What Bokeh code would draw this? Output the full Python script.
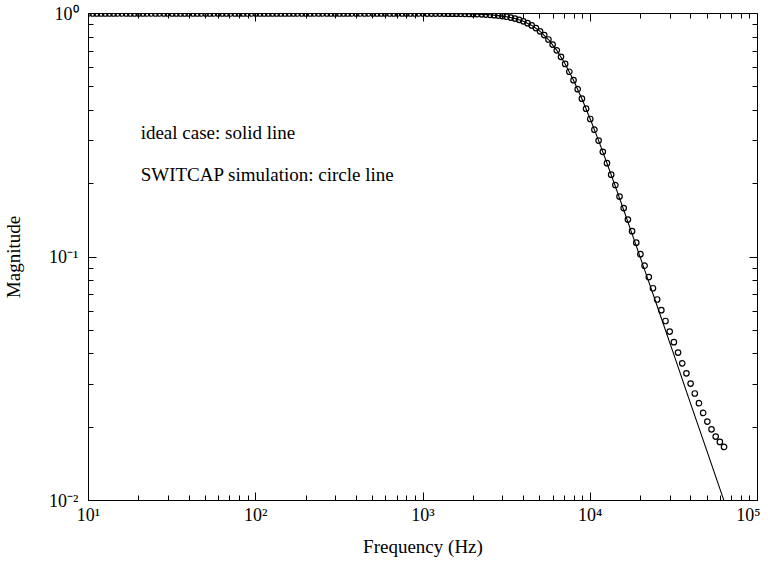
from bokeh.plotting import figure
from bokeh.models import Range1d, LogAxis, FixedTicker, CustomJSTickFormatter, Label, ColumnDataSource
from bokeh.embed import file_html
from bokeh.resources import INLINE

# ---------------- data ----------------
# SWITCAP simulation (circles): frequency in Hz, magnitude
sw_freq = [
    10.00, 10.59, 11.22, 11.89, 12.59, 13.34, 14.13, 14.96, 15.85, 16.79,
    17.78, 18.84, 19.95, 21.13, 22.39, 23.71, 25.12, 26.61, 28.18, 29.85,
    31.62, 33.50, 35.48, 37.58, 39.81, 42.17, 44.67, 47.32, 50.12, 53.09,
    56.23, 59.57, 63.10, 66.83, 70.79, 74.99, 79.43, 84.14, 89.13, 94.41,
    100.0, 105.9, 112.2, 118.9, 125.9, 133.4, 141.3, 149.6, 158.5, 167.9,
    177.8, 188.4, 199.5, 211.3, 223.9, 237.1, 251.2, 266.1, 281.8, 298.5,
    316.2, 335.0, 354.8, 375.8, 398.1, 421.7, 446.7, 473.2, 501.2, 530.9,
    562.3, 595.7, 631.0, 668.3, 707.9, 749.9, 794.3, 841.4, 891.3, 944.1,
    1000, 1059, 1122, 1189, 1259, 1334, 1413, 1496, 1585, 1679,
    1778, 1884, 1995, 2113, 2239, 2371, 2512, 2661, 2818, 2985,
    3162, 3350, 3548, 3758, 3981, 4217, 4467, 4732, 5012, 5309,
    5623, 5957, 6310, 6683, 7079, 7499, 7943, 8414, 8913, 9441,
    10000, 10590, 11220, 11890, 12590, 13340, 14130, 14960, 15850, 16790,
    17780, 18840, 19950, 21130, 22390, 23710, 25120, 26610, 28180, 29850,
    31620, 33500, 35480, 37580, 39810, 42170, 44670, 47320, 50120, 53090,
    56230, 59570, 63100,
]
sw_mag = [
    1.0, 1.0, 1.0, 1.0, 1.0, 1.0, 1.0, 1.0, 1.0, 1.0,
    1.0, 1.0, 1.0, 1.0, 1.0, 1.0, 1.0, 1.0, 1.0, 1.0,
    1.0, 1.0, 1.0, 1.0, 1.0, 1.0, 1.0, 1.0, 1.0, 1.0,
    1.0, 1.0, 1.0, 1.0, 1.0, 1.0, 1.0, 1.0, 1.0, 1.0,
    1.0, 1.0, 1.0, 1.0, 1.0, 1.0, 1.0, 1.0, 1.0, 1.0,
    1.0, 1.0, 1.0, 1.0, 1.0, 1.0, 1.0, 1.0, 1.0, 1.0,
    1.0, 1.0, 1.0, 1.0, 1.0, 1.0, 1.0, 1.0, 1.0, 1.0,
    1.0, 1.0, 1.0, 1.0, 1.0, 1.0, 1.0, 1.0, 1.0, 1.0,
    1.0, 0.9996, 0.9995, 0.9993, 0.9992, 0.999, 0.9987, 0.9984, 0.998, 0.9975,
    0.9968, 0.996, 0.995, 0.9937, 0.9921, 0.9901, 0.9876, 0.9844, 0.9805, 0.9756,
    0.9697, 0.9623, 0.9531, 0.9421, 0.9287, 0.9127, 0.8935, 0.8709, 0.8451, 0.8153,
    0.7819, 0.7454, 0.7059, 0.664, 0.6206, 0.5765, 0.5323, 0.4889, 0.4469, 0.4066,
    0.3687, 0.3334, 0.3006, 0.2704, 0.2428, 0.2178, 0.1974, 0.1771, 0.1589, 0.1425,
    0.1277, 0.1145, 0.1027, 0.0921, 0.0827, 0.0744, 0.0669, 0.0605, 0.0546, 0.0494,
    0.0447, 0.0405, 0.0366, 0.0333, 0.0302, 0.0275, 0.0251, 0.0229, 0.0211, 0.0196,
    0.0183, 0.0174, 0.0166,
]

# ideal case (solid line)
ideal_freq = [10, 100, 316.2, 1000, 1585, 1995, 2512, 2818, 3162, 3548, 3981, 4467,
              5012, 5623, 6310, 7079, 7943, 8913, 10000, 11220, 12590, 14130, 15850,
              17780, 19950, 22390, 25120, 31620, 39810, 50120, 63100, 70790]
ideal_mag = [1.0, 1.0, 1.0, 0.9997, 0.998, 0.995, 0.9876, 0.9805, 0.9697, 0.9531, 0.9287,
             0.8935, 0.8451, 0.7819, 0.7059, 0.6206, 0.5323, 0.4469, 0.3687, 0.3006,
             0.2428, 0.1951, 0.1560, 0.1245, 0.0992, 0.0790, 0.0629, 0.0397, 0.0250,
             0.0158, 0.00997, 0.00792]

x_tick_values = [10, 100, 1000, 10000, 100000]
x_tick_labels = ["10\u00b9", "10\u00b2", "10\u00b3", "10\u2074", "10\u2075"]
y_tick_values = [0.01, 0.1, 1.0]
y_tick_labels = ["10\u207b\u00b2", "10\u207b\u00b9", "10\u2070"]

notes = ["ideal case: solid line", "SWITCAP simulation: circle line"]

# ---------------- figure ----------------
FONT = "Liberation Serif"
X_MIN, X_MAX = 10, 1e5
Y_MIN, Y_MAX = 0.01, 1.0

p = figure(width=760, height=560, x_axis_type="log", y_axis_type="log",
           x_range=Range1d(X_MIN, X_MAX), y_range=Range1d(Y_MIN, Y_MAX),
           output_backend="svg", toolbar_location=None,
           min_border_left=83, min_border_right=3, min_border_top=13, min_border_bottom=60)
p.background_fill_color = "white"
p.border_fill_color = "white"
p.outline_line_color = "black"
p.outline_line_width = 1
p.xgrid.visible = False
p.ygrid.visible = False

x_minor = [m * d for d in [10, 100, 1000, 10000] for m in range(2, 10)]
y_minor = [m * d for d in [0.01, 0.1] for m in range(2, 10)]


def fmt(vals, labs):
    return CustomJSTickFormatter(args=dict(vals=vals, labs=labs), code="""
        for (let i = 0; i < vals.length; i++) {
            if (Math.abs(Math.log10(vals[i]) - Math.log10(tick)) < 1e-6) { return labs[i]; }
        }
        return '';
    """)


def style(ax, is_x, show):
    if is_x:
        ax.ticker = FixedTicker(ticks=x_tick_values, minor_ticks=x_minor)
    else:
        ax.ticker = FixedTicker(ticks=y_tick_values, minor_ticks=y_minor)
    if show:
        ax.formatter = fmt(x_tick_values, x_tick_labels) if is_x else fmt(y_tick_values, y_tick_labels)
        ax.major_label_text_font_size = "18px"
        ax.major_label_text_color = "black"
    else:
        ax.formatter = CustomJSTickFormatter(code="return '';")
        ax.major_label_text_font_size = "1px"
        ax.major_label_text_color = None
        ax.major_label_standoff = 0
        ax.axis_label_standoff = 0
    ax.major_tick_in = 8
    ax.major_tick_out = 0
    ax.minor_tick_in = 5
    ax.minor_tick_out = 0
    ax.axis_line_color = "black"
    ax.axis_line_width = 1
    ax.major_tick_line_color = "black"
    ax.minor_tick_line_color = "black"
    ax.major_label_text_font = FONT
    ax.axis_label_text_font = FONT
    ax.axis_label_text_font_size = "19px"
    ax.axis_label_text_font_style = "normal"
    ax.axis_label_text_color = "black"


xa = p.xaxis[0]
ya = p.yaxis[0]
style(xa, True, True)
style(ya, False, True)
xa.axis_label = "Frequency (Hz)"
ya.axis_label = "Magnitude"
xa.major_label_standoff = 4
xa.axis_label_standoff = 8
ya.major_label_standoff = 10
ya.axis_label_standoff = 22

# mirrored tick axes on top and right, pinned to the frame edges (take no layout space)
top = LogAxis(fixed_location=Y_MAX)
style(top, True, False)
p.add_layout(top, "above")
right = LogAxis(fixed_location=X_MAX)
style(right, False, False)
p.add_layout(right, "right")

ideal_src = ColumnDataSource(dict(f=ideal_freq, m=ideal_mag))
sw_src = ColumnDataSource(dict(f=sw_freq, m=sw_mag))

p.line("f", "m", source=ideal_src, line_color="black", line_width=1.1)
p.scatter("f", "m", source=sw_src, marker="circle", size=5.5, fill_color=None,
          line_color="black", line_width=1.2)

p.add_layout(Label(x=20.5, y=0.326, text=notes[0], text_baseline="middle",
                   text_font=FONT, text_font_size="19px", text_color="black"))
p.add_layout(Label(x=20.5, y=0.218, text=notes[1], text_baseline="middle",
                   text_font=FONT, text_font_size="19px", text_color="black"))

open("out.html", "w").write(file_html(p, INLINE))
